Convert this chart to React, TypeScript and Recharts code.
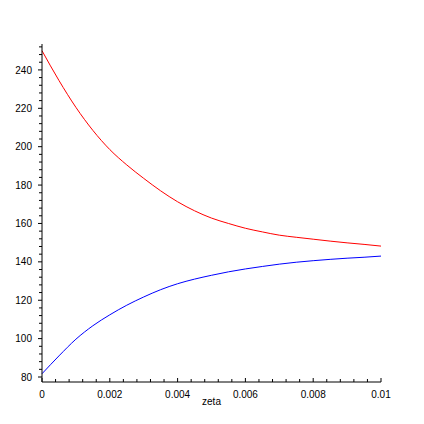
import { LineChart, Line, XAxis, YAxis } from "recharts";

// zeta sample points and the two curves
const zeta = [
  0, 0.0005, 0.001, 0.0015, 0.002, 0.0025, 0.003, 0.0035, 0.004, 0.0045, 0.005,
  0.0055, 0.006, 0.0065, 0.007, 0.0075, 0.008, 0.0085, 0.009, 0.0095, 0.01,
];
const upper = [
  250, 234.5, 220.5, 208.5, 198.5, 190.5, 183.5, 177, 171.3, 166.6, 162.8,
  160, 157.5, 155.6, 153.9, 152.8, 151.8, 150.8, 149.9, 149.1, 148.2,
];
const lower = [
  81.7, 91, 99.7, 106.7, 112.4, 117.4, 121.7, 125.5, 128.6, 131, 133, 134.8,
  136.3, 137.6, 138.8, 139.8, 140.6, 141.3, 141.9, 142.4, 143,
];

const xMajor = [0, 0.002, 0.004, 0.006, 0.008, 0.01];
const xMajorLabels = ["0", "0.002", "0.004", "0.006", "0.008", "0.01"];
const yMajor = [80, 100, 120, 140, 160, 180, 200, 220, 240];

// minor ticks: 5 steps between x majors, 4 units on y
const xTicks = Array.from({ length: 26 }, (_, i) => +(i * 0.0004).toFixed(4));
const yTicks = Array.from({ length: 44 }, (_, i) => 80 + i * 4);

const data = zeta.map((z, i) => ({ zeta: z, upper: upper[i], lower: lower[i] }));

const FONT = "'Liberation Sans', Arial, sans-serif";

function XTick(props: any) {
  const { x, y, payload } = props;
  const idx = xMajor.findIndex((m) => Math.abs(m - payload.value) < 1e-9);
  const major = idx >= 0;
  return (
    <g>
      <line x1={x} x2={x} y1={y} y2={y - (major ? 4 : 3)} stroke="#000" />
      {major && (
        <text x={x} y={y + 16} textAnchor="middle" fontSize={10} fontFamily={FONT} fill="#000">
          {xMajorLabels[idx]}
        </text>
      )}
    </g>
  );
}

function YTick(props: any) {
  const { x, y, payload } = props;
  const major = yMajor.includes(payload.value);
  return (
    <g>
      <line x1={x} x2={x - (major ? 4 : 3)} y1={y} y2={y} stroke="#000" />
      {major && (
        <text x={x - 10} y={y + 3.6} textAnchor="end" fontSize={10} fontFamily={FONT} fill="#000">
          {payload.value}
        </text>
      )}
    </g>
  );
}

export default function App() {
  return (
    <div style={{ position: "absolute", left: 0, top: 0, background: "#fff" }}>
      <LineChart
        width={424}
        height={424}
        data={data}
        margin={{ top: 44, right: 43, bottom: 12, left: 0 }}
      >
        <XAxis
          dataKey="zeta"
          type="number"
          domain={[0, 0.01]}
          ticks={xTicks}
          interval={0}
          height={30}
          tickSize={0}
          tickMargin={0}
          tickLine={false}
          axisLine={{ stroke: "#000" }}
          tick={<XTick />}
          label={{
            value: "zeta",
            position: "insideBottom",
            offset: 7,
            fontSize: 10,
            fontFamily: FONT,
            fill: "#000",
          }}
        />
        <YAxis
          type="number"
          domain={[77.4, 253.5]}
          allowDataOverflow
          ticks={yTicks}
          interval={0}
          width={42}
          tickSize={0}
          tickMargin={0}
          tickLine={false}
          axisLine={{ stroke: "#000" }}
          tick={<YTick />}
        />
        <Line
          type="monotone"
          dataKey="upper"
          stroke="#ff0000"
          strokeWidth={1}
          dot={false}
          isAnimationActive={false}
        />
        <Line
          type="monotone"
          dataKey="lower"
          stroke="#0000ff"
          strokeWidth={1}
          dot={false}
          isAnimationActive={false}
        />
      </LineChart>
    </div>
  );
}
